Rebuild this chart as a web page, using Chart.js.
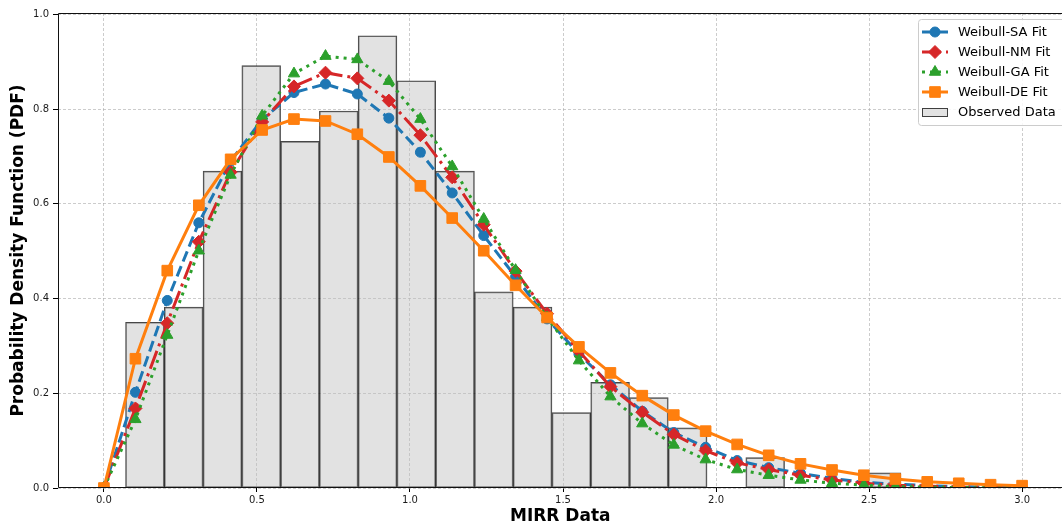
<!DOCTYPE html>
<html><head><meta charset="utf-8">
<script src="https://cdn.jsdelivr.net/npm/chart.js@4.4.1/dist/chart.umd.min.js"></script>
<style>
html,body{margin:0;padding:0;background:#fff;overflow:hidden;width:1062px;height:529px;}
#wrap{position:absolute;left:0;top:0;width:1062px;height:529px;overflow:hidden;}
#c{position:absolute;left:0;top:0;display:block;}
</style></head><body>
<div id="wrap"><canvas id="c" width="1071" height="529"></canvas></div>
<script>
// ---- data ----
const xPoints = [0.000,0.103,0.207,0.310,0.414,0.517,0.621,0.724,0.828,0.931,1.034,1.138,1.241,1.345,1.448,1.552,1.655,1.759,1.862,1.966,2.069,2.172,2.276,2.379,2.483,2.586,2.690,2.793,2.897,3.000];
const saFit = [0, 0.202, 0.396, 0.560, 0.690, 0.778, 0.835, 0.853, 0.832, 0.781, 0.709, 0.623, 0.533, 0.446, 0.357, 0.283, 0.218, 0.162, 0.117, 0.086, 0.058, 0.043, 0.031, 0.020, 0.012, 0.008, 0.005, 0.003, 0.002, 0.001];
const nmFit = [0, 0.168, 0.348, 0.520, 0.667, 0.773, 0.848, 0.877, 0.865, 0.818, 0.745, 0.656, 0.556, 0.458, 0.368, 0.289, 0.214, 0.160, 0.113, 0.079, 0.053, 0.039, 0.027, 0.017, 0.010, 0.006, 0.004, 0.002, 0.001, 0.0005];
const gaFit = [0, 0.145, 0.323, 0.501, 0.661, 0.786, 0.875, 0.912, 0.905, 0.859, 0.779, 0.679, 0.568, 0.460, 0.360, 0.269, 0.193, 0.136, 0.091, 0.060, 0.039, 0.027, 0.017, 0.010, 0.006, 0.003, 0.002, 0.001, 0.0005, 0.0002];
const deFit = [0, 0.273, 0.459, 0.597, 0.694, 0.756, 0.779, 0.775, 0.747, 0.699, 0.638, 0.570, 0.501, 0.428, 0.360, 0.298, 0.243, 0.195, 0.154, 0.120, 0.092, 0.069, 0.051, 0.038, 0.027, 0.019, 0.013, 0.010, 0.007, 0.005];
const binCenters = [0.1340,0.2607,0.3873,0.5140,0.6407,0.7673,0.8940,1.0206,1.1473,1.2740,1.4006,1.5273,1.6539,1.7806,1.9073,2.0339,2.1606,2.2872,2.4139,2.5406];
const observedDensity = [0.350,0.382,0.669,0.892,0.732,0.796,0.955,0.860,0.669,0.414,0.382,0.159,0.223,0.191,0.127,0,0.064,0,0,0.032];
const seriesLabels = ['Weibull-SA Fit','Weibull-NM Fit','Weibull-GA Fit','Weibull-DE Fit','Observed Data'];
const xTickValues = [0.0,0.5,1.0,1.5,2.0,2.5,3.0];
const yTickValues = [0.0,0.2,0.4,0.6,0.8,1.0];
const xAxisTitle = 'MIRR Data';
const yAxisTitle = 'Probability Density Function (PDF)';

Chart.defaults.font.family = "'DejaVu Sans', sans-serif";

const pts = arr => xPoints.map((x,i)=>({x:x, y:arr[i]}));
const BAR_FILL = 'rgba(190,190,190,0.45)';
const BAR_EDGE = 'rgba(0,0,0,0.72)';

function lineDs(label, data, color, dash, style, radius, order){
  return {type:'line', label, data:pts(data), borderColor:color, backgroundColor:color,
    borderWidth:3, borderDash:dash, pointStyle:style, pointRadius:radius, pointHoverRadius:radius,
    pointBackgroundColor:color, pointBorderColor:color, pointBorderWidth:1,
    tension:0, fill:false, order};
}

const datasets = [
  {type:'bar', label:seriesLabels[4], data:binCenters.map((x,i)=>({x:x,y:observedDensity[i]})),
   backgroundColor:BAR_FILL, borderColor:BAR_EDGE, borderWidth:1, borderSkipped:false,
   barPercentage:1, categoryPercentage:1, order:10},
  lineDs(seriesLabels[0], saFit, '#1f77b4', [11,5], 'circle', 5, 4),
  lineDs(seriesLabels[1], nmFit, '#d62728', [19,5,3,5], 'rectRot', 6.5, 3),
  lineDs(seriesLabels[2], gaFit, '#2ca02c', [3,5], 'triangle', 6.5, 2),
  lineDs(seriesLabels[3], deFit, '#ff7f0e', [], 'rect', 7.5, 1)
];

const framePlugin = {
  id:'frameLegend',
  afterDraw(chart){
    const ctx = chart.ctx, a = chart.chartArea;
    ctx.save();
    ctx.setLineDash([]);
    ctx.strokeStyle = '#111'; ctx.lineWidth = 1;
    const L = Math.round(a.left)+0.5, T = Math.round(a.top)+0.5, B = Math.round(a.bottom)-0.5;
    ctx.beginPath();
    ctx.moveTo(1075,T); ctx.lineTo(L,T); ctx.lineTo(L,B); ctx.lineTo(1075,B);
    ctx.stroke();
    // legend box (right part cropped like the reference)
    const bx=918.5, by=19.5, bw=147, bh=106, r=3;
    ctx.beginPath();
    ctx.moveTo(bx+r,by); ctx.lineTo(bx+bw-r,by); ctx.arcTo(bx+bw,by,bx+bw,by+r,r);
    ctx.lineTo(bx+bw,by+bh-r); ctx.arcTo(bx+bw,by+bh,bx+bw-r,by+bh,r);
    ctx.lineTo(bx+r,by+bh); ctx.arcTo(bx,by+bh,bx,by+bh-r,r);
    ctx.lineTo(bx,by+r); ctx.arcTo(bx,by,bx+r,by,r); ctx.closePath();
    ctx.fillStyle='rgba(255,255,255,0.85)'; ctx.fill();
    ctx.strokeStyle='#cccccc'; ctx.lineWidth=1; ctx.stroke();
    const rows=[32,52,72,92,112.5];
    const lineSets=[1,2,3,4];
    ctx.font = "13px 'DejaVu Sans', sans-serif";
    ctx.textBaseline='middle'; ctx.textAlign='left';
    lineSets.forEach((di,k)=>{
      const ds = chart.data.datasets[di];
      const y = rows[k];
      ctx.save();
      ctx.strokeStyle = ds.borderColor; ctx.lineWidth = 3;
      ctx.setLineDash(ds.borderDash); ctx.lineCap='butt';
      ctx.beginPath(); ctx.moveTo(922,y); ctx.lineTo(948,y); ctx.stroke();
      ctx.setLineDash([]);
      ctx.fillStyle = ds.borderColor; ctx.strokeStyle = ds.borderColor; ctx.lineWidth=1;
      Chart.helpers.drawPoint(ctx,{pointStyle:ds.pointStyle, radius:ds.pointRadius, rotation:0, borderWidth:1},935,y);
      ctx.restore();
      ctx.fillStyle='#000';
      ctx.fillText(ds.label,958,y+0.5);
    });
    const bds = chart.data.datasets[0];
    ctx.fillStyle='#fff'; ctx.fillRect(922,108,26,9);
    ctx.fillStyle=BAR_FILL; ctx.fillRect(922,108,26,9);
    ctx.strokeStyle=BAR_EDGE; ctx.lineWidth=1; ctx.setLineDash([]);
    ctx.strokeRect(922.5,108.5,25,8);
    ctx.fillStyle='#000';
    ctx.fillText(bds.label,958,rows[4]+0.5);
    ctx.restore();
  }
};

new Chart(document.getElementById('c'), {
  data:{datasets},
  options:{
    responsive:false, devicePixelRatio:1, animation:false,
    layout:{padding:{left:0,right:0,top:13,bottom:0}},
    plugins:{legend:{display:false}, tooltip:{enabled:false}},
    scales:{
      x:{type:'linear', position:'bottom', min:-0.15, max:3.132, offset:false,
        afterBuildTicks:s=>{s.ticks = xTickValues.map(v=>({value:v}));},
        afterFit:s=>{s.height=41;},
        ticks:{callback:v=>Number(v).toFixed(1), font:{size:10}, color:'#1a1a1a', padding:2, maxRotation:0, autoSkip:false},
        grid:{offset:false, color:'rgba(170,170,170,0.75)', lineWidth:0.8, tickLength:4, tickColor:'#000', tickWidth:1},
        border:{display:false, dash:[3,2]},
        title:{display:true, text:xAxisTitle, color:'#000', font:{size:17, weight:'bold'}, padding:{top:0,bottom:2}}
      },
      y:{type:'linear', position:'left', min:0, max:1.003,
        afterBuildTicks:s=>{s.ticks = yTickValues.map(v=>({value:v}));},
        afterFit:s=>{s.width=58;},
        ticks:{callback:v=>Number(v).toFixed(1), font:{size:10}, color:'#1a1a1a', padding:4, autoSkip:false},
        grid:{color:'rgba(170,170,170,0.75)', lineWidth:0.8, tickLength:5, tickColor:'#000', tickWidth:1},
        border:{display:false, dash:[3,2]},
        title:{display:true, text:yAxisTitle, color:'#000', font:{size:17, weight:'bold'}, padding:{top:8,bottom:0}}
      }
    }
  },
  plugins:[framePlugin]
});
</script>
</body></html>
